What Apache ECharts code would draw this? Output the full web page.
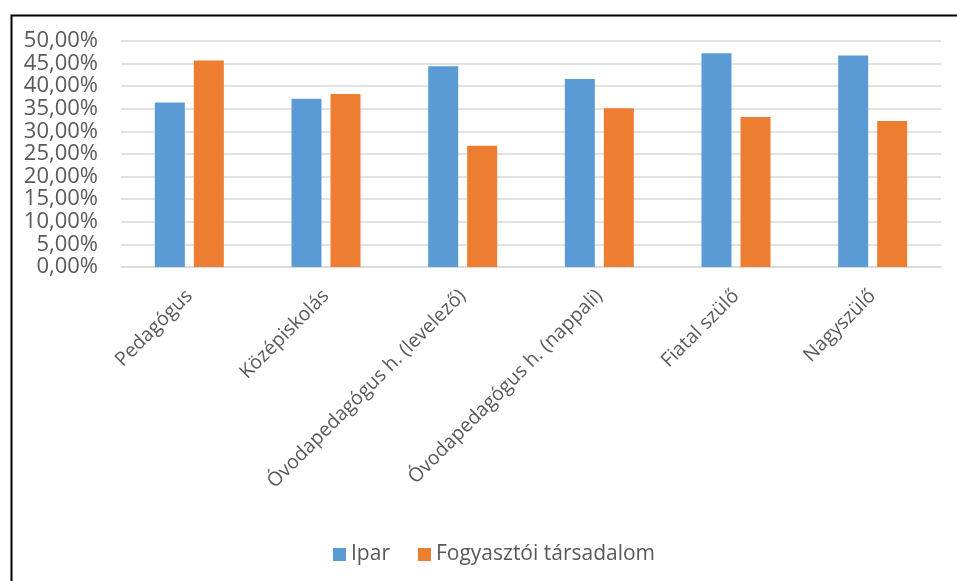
<!DOCTYPE html>
<html>
<head>
<meta charset="utf-8">
<script src="https://cdn.jsdelivr.net/npm/echarts@6/dist/echarts.min.js"></script>
<style>html,body{margin:0;padding:0;background:#fff;}#c{width:957px;height:581px;}</style>
</head>
<body>
<div id="c"></div>
<script>
var categories = ['Pedagógus', 'Középiskolás', 'Óvodapedagógus h. (levelező)', 'Óvodapedagógus h. (nappali)', 'Fiatal szülő', 'Nagyszülő'];
var ipar = [36.4, 37.2, 44.4, 41.6, 47.3, 46.8];
var fogyasztoi = [45.7, 38.3, 26.8, 35.1, 33.2, 32.3];
var seriesNames = ['Ipar', 'Fogyasztói társadalom'];

var FONT = 'Open Sans';
var chart = echarts.init(document.getElementById('c'));
chart.setOption({
  animation: false,
  backgroundColor: '#fff',
  textStyle: {fontFamily: FONT},
  graphic: [{
    type: 'rect', left: 9, top: 13, z: -1,
    shape: {width: 1200, height: 1200},
    style: {fill: 'none', stroke: '#000', lineWidth: 2}
  }],
  grid: {left: 121, right: 16, top: 41, bottom: 314, containLabel: false},
  legend: {
    bottom: 16, left: 333, padding: 0,
    itemWidth: 13, itemHeight: 13, itemGap: 28,
    icon: 'rect',
    textStyle: {fontFamily: FONT, fontSize: 21, color: '#595959'},
    data: seriesNames
  },
  xAxis: {
    type: 'category',
    data: categories,
    axisLine: {lineStyle: {color: '#d9d9d9', width: 1.5}},
    axisTick: {show: false},
    axisLabel: {rotate: 45, margin: 26, fontFamily: FONT, fontSize: 19.5, color: '#595959', interval: 0}
  },
  yAxis: {
    type: 'value', min: 0, max: 50, interval: 5,
    axisLine: {show: false},
    axisTick: {show: false},
    splitLine: {lineStyle: {color: '#d9d9d9', width: 1.5}},
    axisLabel: {
      margin: 23, fontFamily: FONT, fontSize: 22, color: '#595959',
      formatter: function (v) { return v.toFixed(2).replace('.', ',') + '%'; }
    }
  },
  series: [
    {name: seriesNames[0], type: 'bar', data: ipar, barWidth: 30, barGap: '30%',
     itemStyle: {color: '#5B9BD5'}},
    {name: seriesNames[1], type: 'bar', data: fogyasztoi, barWidth: 30, barGap: '30%',
     itemStyle: {color: '#ED7D31'}}
  ]
});
</script>
</body>
</html>
